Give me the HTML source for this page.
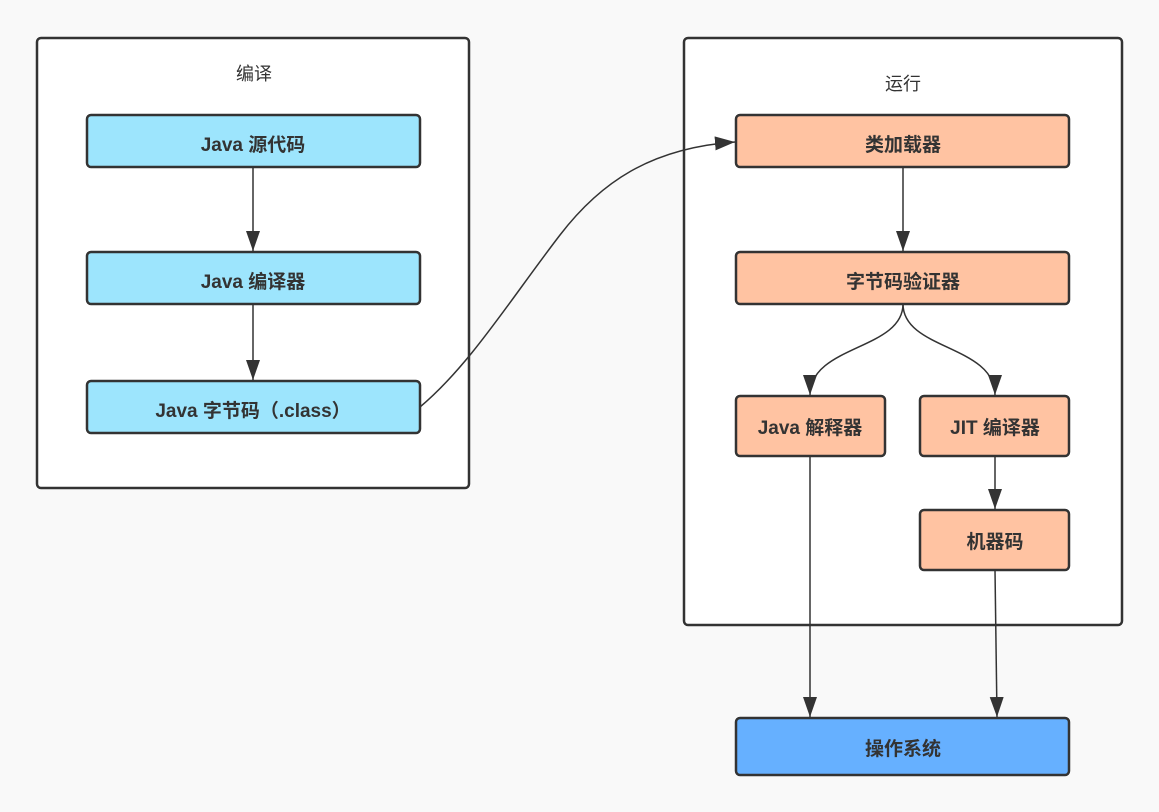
<!DOCTYPE html>
<html><head><meta charset="utf-8"><style>
html,body{margin:0;padding:0;background:#f9f9f9;}
svg{display:block;}
text{font-family:"Liberation Sans","Noto Sans CJK SC",sans-serif;fill:#333;}
.b{font-weight:bold;font-size:19px;}
</style></head><body>
<svg width="1159" height="812" viewBox="0 0 1159 812">
<defs><marker id="a" markerWidth="24" markerHeight="16" refX="20" refY="7" orient="auto" markerUnits="userSpaceOnUse"><path d="M0,0 L20,7 L0,14 Z" fill="#333"/></marker></defs>
<rect width="1159" height="812" fill="#f9f9f9"/>
<rect x="37" y="38" width="432" height="450" rx="4" fill="#fff" stroke="#333" stroke-width="2.5"/>
<rect x="684" y="38" width="438" height="587" rx="4" fill="#fff" stroke="#333" stroke-width="2.5"/>
<text x="254" y="80" font-size="18" text-anchor="middle">编译</text>
<text x="903" y="90" font-size="18" text-anchor="middle">运行</text>
<g stroke="#333" stroke-width="2.5">
<rect x="87" y="115" width="333" height="52" rx="4" fill="#9de5fd"/>
<rect x="87" y="252" width="333" height="52" rx="4" fill="#9de5fd"/>
<rect x="87" y="381" width="333" height="52" rx="4" fill="#9de5fd"/>
<rect x="736" y="115" width="333" height="52" rx="4" fill="#ffc3a2"/>
<rect x="736" y="252" width="333" height="52" rx="4" fill="#ffc3a2"/>
<rect x="736" y="396" width="149" height="60" rx="4" fill="#ffc3a2"/>
<rect x="920" y="396" width="149" height="60" rx="4" fill="#ffc3a2"/>
<rect x="920" y="510" width="149" height="60" rx="4" fill="#ffc3a2"/>
<rect x="736" y="718" width="333" height="57" rx="4" fill="#66b0ff"/>
</g>
<g fill="none" stroke="#333" stroke-width="1.5" marker-end="url(#a)">
<path d="M253,167 L253,251"/>
<path d="M253,304 L253,380"/>
<path d="M420,407 C470,365 510,300 560,235 C600,183 650,148 735,142"/>
<path d="M903,167 L903,251"/>
<path d="M903,304 C903,350 810,345 810,395"/>
<path d="M903,304 C903,350 995,345 995,395"/>
<path d="M995,456 L995,509"/>
<path d="M810,456 L810,717"/>
<path d="M995,570 L997,717"/>
</g>
<g text-anchor="middle">
<text class="b" x="253" y="151">Java 源代码</text>
<text class="b" x="253" y="288">Java 编译器</text>
<text class="b" x="253" y="417">Java 字节码（.class）</text>
<text class="b" x="903" y="151">类加载器</text>
<text class="b" x="903" y="288">字节码验证器</text>
<text class="b" x="810" y="434">Java 解释器</text>
<text class="b" x="995" y="434">JIT 编译器</text>
<text class="b" x="995" y="548">机器码</text>
<text class="b" x="903" y="755">操作系统</text>
</g>
</svg>
</body></html>
